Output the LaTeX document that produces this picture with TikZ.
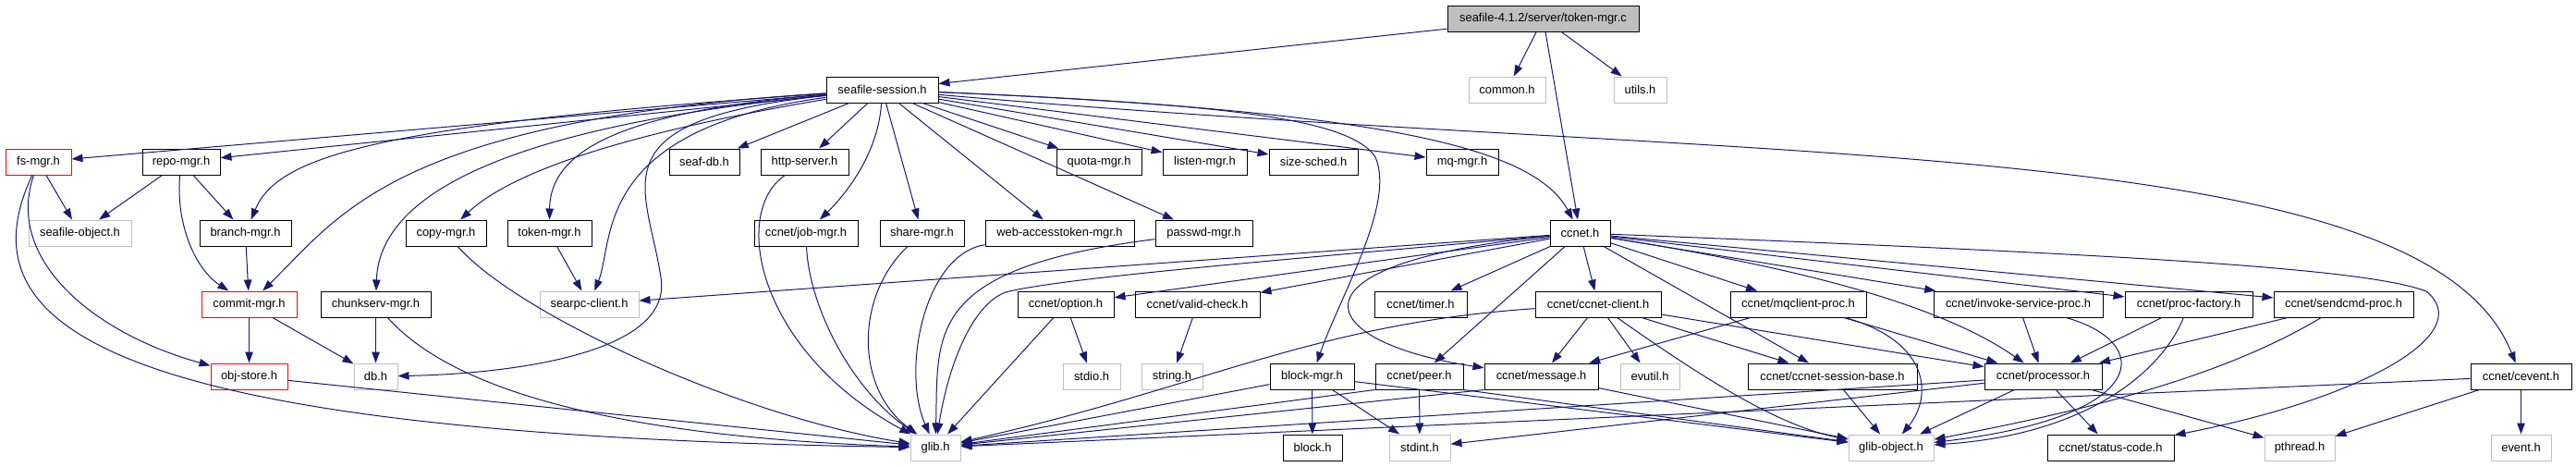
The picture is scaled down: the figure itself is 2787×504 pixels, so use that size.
\documentclass[tikz,border=0pt]{standalone}
\usepackage{fontspec}
\setmainfont{Liberation Sans}
\usepackage{xcolor}
\usepackage{tikz}
\usetikzlibrary{arrows.meta}

\definecolor{edgeblue}{HTML}{191970}
\definecolor{undocgray}{HTML}{BFBFBF}

\begin{document}
\begin{tikzpicture}[
  x=1pt, y=-1pt,
  >={Triangle[length=12pt,width=8.5pt]},
  every node/.style={font=\fontsize{12.9}{15}\selectfont},
  hfile/.style={rectangle, draw=black, fill=white, line width=1pt,
    minimum height=28pt, inner sep=0pt, minimum width=#1pt},
  undoc/.style={hfile=#1, draw=undocgray},
  trunc/.style={hfile=#1, draw=red},
  rootfile/.style={hfile=#1, fill=undocgray},
  dep/.style={->, color=edgeblue, line width=1pt},
]
\useasboundingbox (0,0) rectangle (2787,504);

% Row 0: the source file
\node[rootfile=207] at (1669.5, 20) (root) {seafile-4.1.2/server/token-mgr.c};

% Row 1
\node[hfile=121] at (954.5, 97) (sess) {seafile-session.h};
\node[undoc=83] at (1630.5, 97) (common) {common.h};
\node[undoc=57] at (1774.5, 97) (utils) {utils.h};

% Row 2
\node[trunc=71] at (41.5, 175) (fsmgr) {fs-mgr.h};
\node[hfile=84] at (196, 175) (repomgr) {repo-mgr.h};
\node[hfile=76] at (762, 175) (seafdb) {seaf-db.h};
\node[hfile=95] at (870.5, 175) (httpsrv) {http-server.h};
\node[hfile=92] at (1189, 175) (quota) {quota-mgr.h};
\node[hfile=91] at (1303.5, 175) (listen) {listen-mgr.h};
\node[hfile=96] at (1421, 175) (sizesched) {size-sched.h};
\node[hfile=78] at (1582, 175) (mqmgr) {mq-mgr.h};

% Row 3
\node[undoc=111] at (86.5, 252) (seafobj) {seafile-object.h};
\node[hfile=99] at (265.5, 252) (branch) {branch-mgr.h};
\node[hfile=87] at (482.5, 252) (copymgr) {copy-mgr.h};
\node[hfile=91] at (594.5, 252) (tokenmgr) {token-mgr.h};
\node[hfile=112] at (872, 252) (jobmgr) {ccnet/job-mgr.h};
\node[hfile=91] at (997.5, 252) (share) {share-mgr.h};
\node[hfile=161] at (1146.5, 252) (webtok) {web-accesstoken-mgr.h};
\node[hfile=105] at (1302.5, 252) (passwd) {passwd-mgr.h};
\node[hfile=65] at (1709.5, 252) (ccnet) {ccnet.h};

% Row 4
\node[trunc=103] at (269.5, 329) (commit) {commit-mgr.h};
\node[hfile=119] at (406.5, 329) (chunk) {chunkserv-mgr.h};
\node[undoc=107] at (637.5, 329) (searpc) {searpc-client.h};
\node[hfile=104] at (1153, 329) (option) {ccnet/option.h};
\node[hfile=135] at (1295.5, 329) (valid) {ccnet/valid-check.h};
\node[hfile=100] at (1537, 329) (timer) {ccnet/timer.h};
\node[hfile=136] at (1729, 329) (client) {ccnet/ccnet-client.h};
\node[hfile=147] at (1945.5, 329) (mqclient) {ccnet/mqclient-proc.h};
\node[hfile=183] at (2183.5, 329) (invoke) {ccnet/invoke-service-proc.h};
\node[hfile=138] at (2368, 329) (pfactory) {ccnet/proc-factory.h};
\node[hfile=151] at (2535.5, 329) (sendcmd) {ccnet/sendcmd-proc.h};

% Row 5
\node[trunc=83] at (269.5, 407) (objstore) {obj-store.h};
\node[undoc=47] at (406.5, 407) (db) {db.h};
\node[undoc=62] at (1181, 407) (stdio) {stdio.h};
\node[undoc=66] at (1268, 407) (string) {string.h};
\node[hfile=91] at (1419.5, 407) (blockmgr) {block-mgr.h};
\node[hfile=95] at (1535.5, 407) (peer) {ccnet/peer.h};
\node[hfile=123] at (1667.5, 407) (message) {ccnet/message.h};
\node[undoc=64] at (1785, 407) (evutil) {evutil.h};
\node[hfile=183] at (1982.5, 407) (sbase) {ccnet/ccnet-session-base.h};
\node[hfile=127] at (2210.5, 407) (processor) {ccnet/processor.h};
\node[hfile=109] at (2727.5, 407) (cevent) {ccnet/cevent.h};

% Row 6
\node[undoc=54] at (1012, 484) (glib) {glib.h};
\node[hfile=64] at (1420, 484) (block) {block.h};
\node[undoc=66] at (1536, 484) (stdint) {stdint.h};
\node[undoc=92] at (2046, 484) (gobject) {glib-object.h};
\node[hfile=137] at (2283.5, 484) (status) {ccnet/status-code.h};
\node[undoc=76] at (2488, 484) (pthread) {pthread.h};
\node[undoc=65] at (2727.5, 484) (event) {event.h};

% token-mgr.c includes
\draw[dep] (root) -- (sess);
\draw[dep] (root) -- (common);
\draw[dep] (root) -- (utils);
\draw[dep] (root) -- (ccnet);

% seafile-session.h includes
\draw[dep] (sess) -- (fsmgr);
\draw[dep] (sess) -- (repomgr);
\draw[dep] (sess) .. controls (400,135) and (300,170) .. (branch);
\draw[dep] (sess) .. controls (430,130) and (370,230) .. (commit);
\draw[dep] (sess) .. controls (520,140) and (410,220) .. (chunk);
\draw[dep] (sess) .. controls (700,140) and (560,180) .. (copymgr);
\draw[dep] (sess) .. controls (680,120) and (595,160) .. (tokenmgr);
\draw[dep] (sess) .. controls (640,140) and (665,260) .. (searpc);
\draw[dep] (sess) .. controls (640,130) and (700,200) .. (715,300)
  .. controls (730,390) and (520,405) .. (db);
\draw[dep] (sess) -- (seafdb);
\draw[dep] (sess) -- (httpsrv);
\draw[dep] (sess) .. controls (950,170) and (910,215) .. (jobmgr);
\draw[dep] (sess) -- (share);
\draw[dep] (sess) -- (webtok);
\draw[dep] (sess) -- (passwd);
\draw[dep] (sess) -- (quota);
\draw[dep] (sess) -- (listen);
\draw[dep] (sess) -- (sizesched);
\draw[dep] (sess) -- (mqmgr);
\draw[dep] (sess) .. controls (1500,120) and (1660,160) .. (ccnet);
\draw[dep] (sess) .. controls (1300,112) and (1460,125) .. (1488,170)
  .. controls (1510,220) and (1450,320) .. (blockmgr);
\draw[dep] (sess) .. controls (1900,180) and (2620,140) .. (cevent);

% seafile headers
\draw[dep] (fsmgr) -- (seafobj);
\draw[dep] (fsmgr) .. controls (5,280) and (100,360) .. (objstore);
\draw[dep] (fsmgr) .. controls (-40,350) and (100,470) .. (glib);
\draw[dep] (repomgr) -- (seafobj);
\draw[dep] (repomgr) -- (branch);
\draw[dep] (repomgr) .. controls (190,240) and (210,290) .. (commit);
\draw[dep] (branch) -- (commit);
\draw[dep] (commit) -- (objstore);
\draw[dep] (commit) -- (db);
\draw[dep] (objstore) -- (glib);
\draw[dep] (chunk) -- (db);
\draw[dep] (chunk) .. controls (470,400) and (600,470) .. (glib);
\draw[dep] (copymgr) .. controls (560,340) and (800,450) .. (glib);
\draw[dep] (tokenmgr) -- (searpc);
\draw[dep] (httpsrv) .. controls (790,230) and (820,380) .. (glib);
\draw[dep] (jobmgr) .. controls (875,330) and (920,420) .. (glib);
\draw[dep] (share) .. controls (925,320) and (925,420) .. (glib);
\draw[dep] (webtok) .. controls (1000,275) and (975,400) .. (glib);
\draw[dep] (passwd) .. controls (1000,290) and (1015,360) .. (glib);

% ccnet.h includes
\draw[dep] (ccnet) -- (searpc);
\draw[dep] (ccnet) .. controls (1400,280) and (1150,300) .. (1088,316)
  .. controls (1050,330) and (1025,400) .. (glib);
\draw[dep] (ccnet) -- (option);
\draw[dep] (ccnet) -- (valid);
\draw[dep] (ccnet) -- (timer);
\draw[dep] (ccnet) -- (client);
\draw[dep] (ccnet) -- (peer);
\draw[dep] (ccnet) .. controls (1380,285) and (1420,370) .. (message);
\draw[dep] (ccnet) -- (mqclient);
\draw[dep] (ccnet) -- (invoke);
\draw[dep] (ccnet) -- (pfactory);
\draw[dep] (ccnet) -- (sendcmd);
\draw[dep] (ccnet) -- (sbase);
\draw[dep] (ccnet) .. controls (1950,290) and (2100,330) .. (processor);
\draw[dep] (ccnet) .. controls (2300,275) and (2560,290) .. (2625,315)
  .. controls (2680,360) and (2560,430) .. (status);

% ccnet headers
\draw[dep] (option) -- (stdio);
\draw[dep] (option) -- (glib);
\draw[dep] (valid) -- (string);
\draw[dep] (client) -- (message);
\draw[dep] (client) -- (evutil);
\draw[dep] (client) -- (sbase);
\draw[dep] (client) -- (processor);
\draw[dep] (client) .. controls (1420,350) and (1300,420) .. (glib);
\draw[dep] (client) .. controls (1830,400) and (1920,460) .. (gobject);
\draw[dep] (mqclient) -- (message);
\draw[dep] (mqclient) -- (processor);
\draw[dep] (mqclient) .. controls (2090,370) and (2090,430) .. (gobject);
\draw[dep] (invoke) -- (processor);
\draw[dep] (invoke) .. controls (2330,370) and (2330,450) .. (gobject);
\draw[dep] (pfactory) -- (processor);
\draw[dep] (pfactory) .. controls (2340,400) and (2260,470) .. (gobject);
\draw[dep] (sendcmd) -- (processor);
\draw[dep] (sendcmd) .. controls (2400,410) and (2250,445) .. (gobject);
\draw[dep] (blockmgr) -- (block);
\draw[dep] (blockmgr) -- (stdint);
\draw[dep] (blockmgr) -- (glib);
\draw[dep] (blockmgr) -- (gobject);
\draw[dep] (peer) -- (stdint);
\draw[dep] (peer.south west) -- (glib);
\draw[dep] (peer.south east) -- (gobject);
\draw[dep] (message.south west) -- (glib);
\draw[dep] (message) -- (gobject);
\draw[dep] (sbase) -- (gobject);
\draw[dep] (processor) -- (glib);
\draw[dep] (processor) -- (gobject);
\draw[dep] (processor) -- (status);
\draw[dep] (processor) -- (pthread);
\draw[dep] (processor) -- (stdint);
\draw[dep] (cevent) -- (glib);
\draw[dep] (cevent) -- (pthread);
\draw[dep] (cevent) -- (event);

\end{tikzpicture}
\end{document}
